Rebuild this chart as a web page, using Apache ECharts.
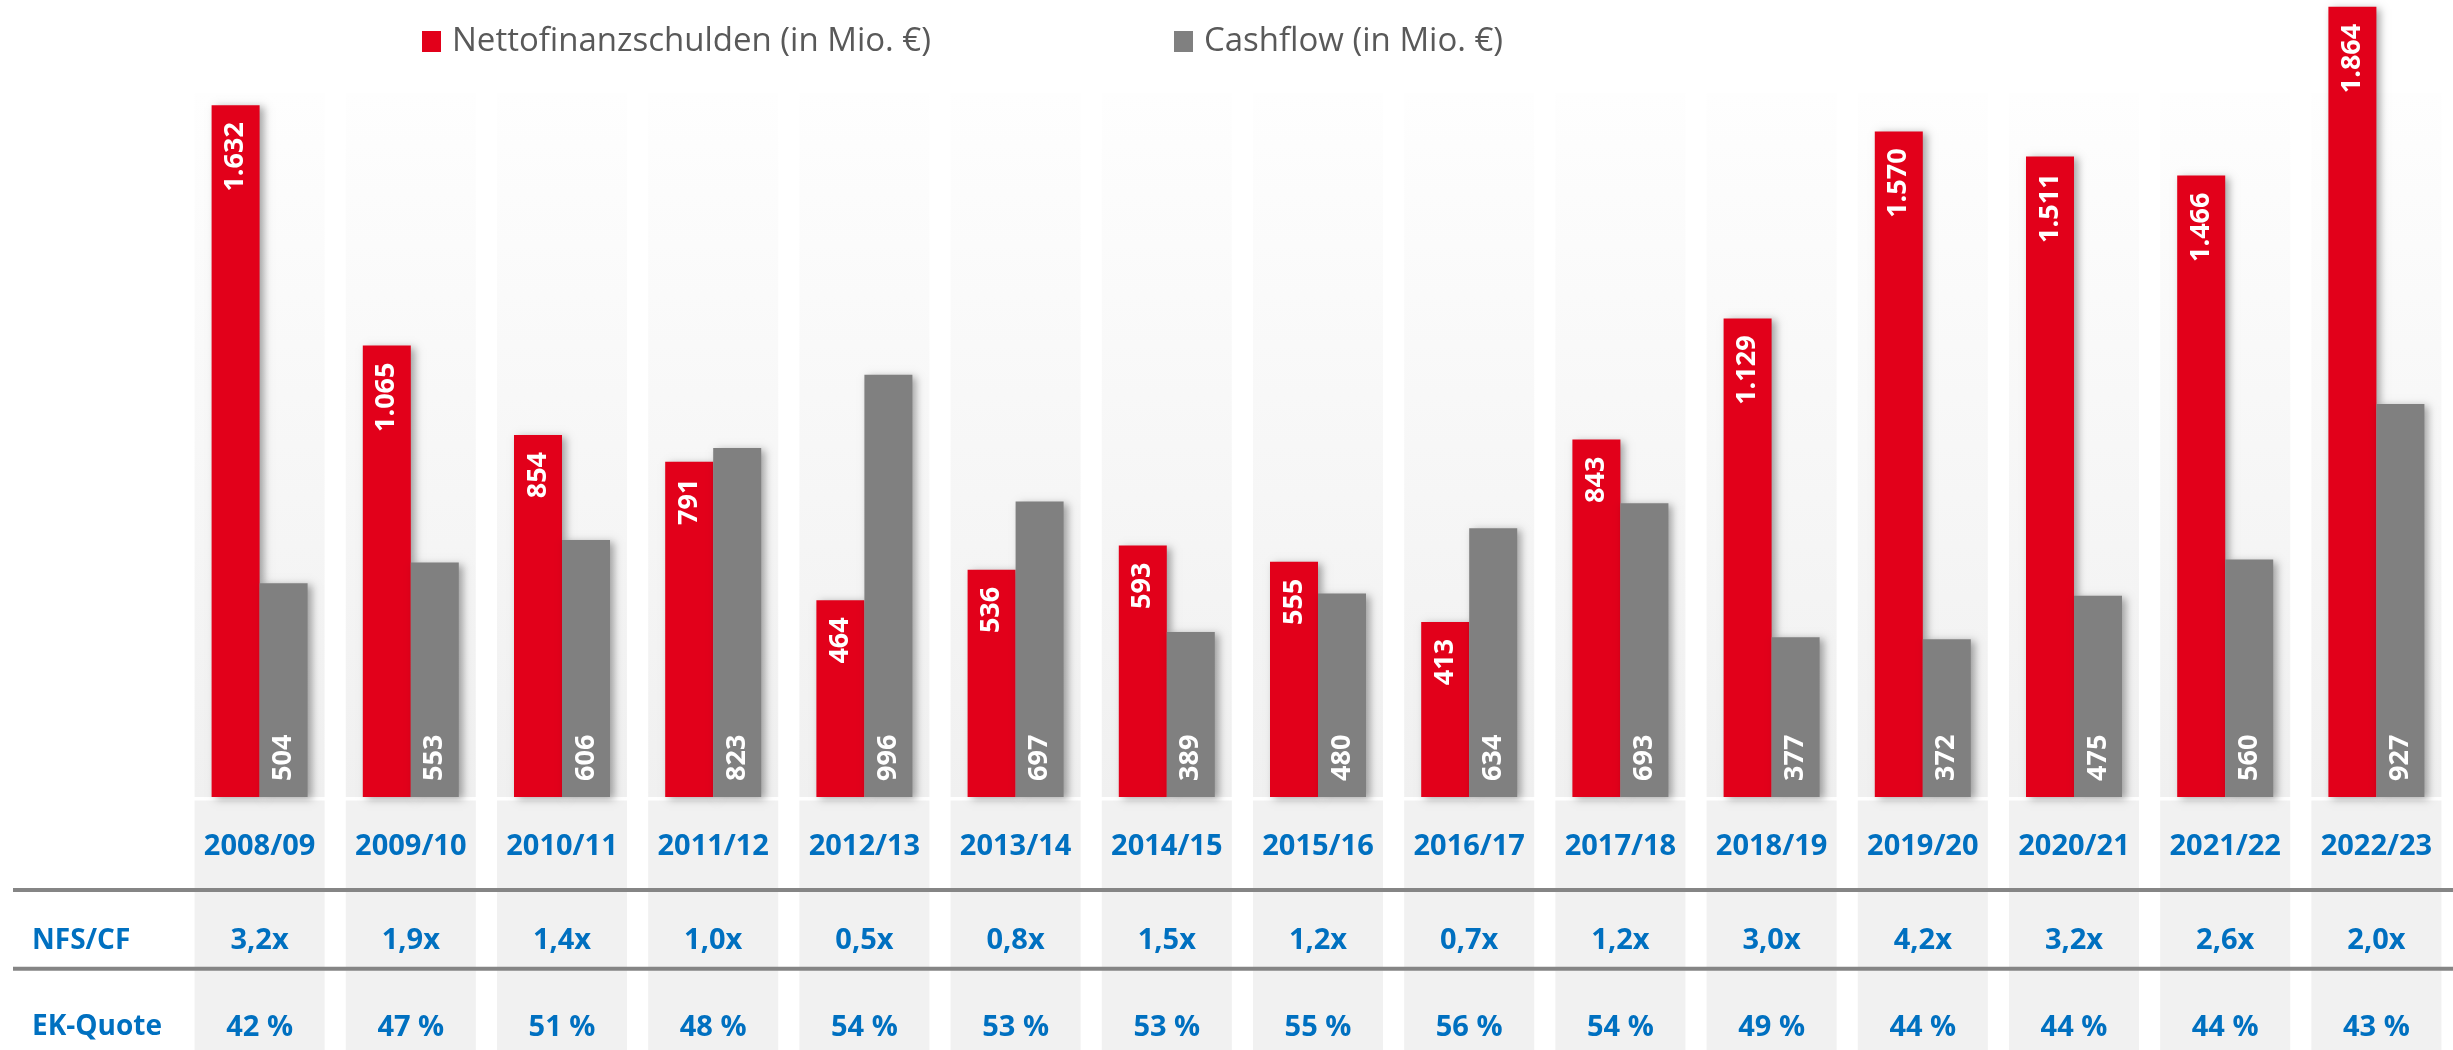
<!DOCTYPE html>
<html>
<head>
<meta charset="utf-8">
<title>Nettofinanzschulden und Cashflow</title>
<script src="https://cdn.jsdelivr.net/npm/echarts@6/dist/echarts.min.js"></script>
<style>
  html, body { margin: 0; padding: 0; background: #ffffff; }
  #chart { width: 2453px; height: 1050px; }
</style>
</head>
<body>
<div id="chart"></div>
<script>
// Geschäftsjahre
const categories = ['2008/09', '2009/10', '2010/11', '2011/12', '2012/13', '2013/14', '2014/15', '2015/16',
  '2016/17', '2017/18', '2018/19', '2019/20', '2020/21', '2021/22', '2022/23'];

// Nettofinanzschulden (in Mio. €)
const nettofinanzschulden = [1632, 1065, 854, 791, 464, 536, 593, 555, 413, 843, 1129, 1570, 1511, 1466, 1864];

// Cashflow (in Mio. €)
const cashflow = [504, 553, 606, 823, 996, 697, 389, 480, 634, 693, 377, 372, 475, 560, 927];

// Kennzahlen-Zeilen unter dem Diagramm
const nfsCf = ['3,2x', '1,9x', '1,4x', '1,0x', '0,5x', '0,8x', '1,5x', '1,2x', '0,7x', '1,2x', '3,0x', '4,2x', '3,2x', '2,6x', '2,0x'];
const ekQuote = ['42 %', '47 %', '51 %', '48 %', '54 %', '53 %', '53 %', '55 %', '56 %', '54 %', '49 %', '44 %', '44 %', '44 %', '43 %'];

const seriesNames = ['Nettofinanzschulden (in Mio. €)', 'Cashflow (in Mio. €)'];
const rowTitles = ['NFS/CF', 'EK-Quote'];

const FONT = '"Open Sans", "Noto Sans", sans-serif';
const BLUE = '#0070c0';
const RED = '#e2001a';
const GREY = '#808080';
const H = 1050;
const STRIPE_TOP = 93;

// German thousands separator
function fmt(v) {
  return String(v).replace(/\B(?=(\d{3})+(?!\d))/g, '.');
}

const chart = echarts.init(document.getElementById('chart'), null, { renderer: 'canvas' });

const barShadow = {
  shadowBlur: 8,
  shadowColor: 'rgba(0,0,0,0.35)',
  shadowOffsetX: 4,
  shadowOffsetY: 2
};

const labelBase = {
  show: true,
  rotate: 90,
  verticalAlign: 'middle',
  color: '#ffffff',
  fontFamily: FONT,
  fontWeight: 'bold',
  fontSize: 27,
  formatter: p => fmt(p.value)
};

function tableAxis(data, margin) {
  return {
    type: 'category',
    gridIndex: 0,
    position: 'bottom',
    data: data,
    axisLine: { show: false },
    axisTick: { show: false },
    splitLine: { show: false },
    axisLabel: {
      margin: margin,
      interval: 0,
      color: BLUE,
      fontFamily: FONT,
      fontWeight: 'bold',
      fontSize: 29,
      lineHeight: 30
    }
  };
}

const legendBase = {
  orient: 'horizontal',
  top: 25,
  padding: 0,
  icon: 'rect',
  itemWidth: 19,
  itemHeight: 21,
  selectedMode: false,
  itemStyle: { shadowBlur: 0, shadowOffsetX: 0, shadowOffsetY: 0, shadowColor: 'transparent' },
  textStyle: {
    color: '#595959',
    fontFamily: FONT,
    fontSize: 33,
    padding: [0, 0, 0, 6]
  }
};

const option = {
  backgroundColor: '#ffffff',
  animation: false,
  legend: [
    Object.assign({}, legendBase, { left: 422, data: [seriesNames[0]] }),
    Object.assign({}, legendBase, { left: 1174, data: [seriesNames[1]] })
  ],
  grid: { left: 184, right: 1, top: 0, bottom: 253, containLabel: false },
  xAxis: [
    tableAxis(categories, 35),
    tableAxis(nfsCf, 129),
    tableAxis(ekQuote, 216)
  ],
  yAxis: {
    type: 'value',
    min: 0,
    max: 1880,
    show: false,
    splitLine: { show: false }
  },
  graphic: [
    {
      type: 'line', silent: true, z: 10,
      shape: { x1: 13, y1: 890, x2: 2453, y2: 890 },
      style: { stroke: '#858585', lineWidth: 4 }
    },
    {
      type: 'line', silent: true, z: 10,
      shape: { x1: 13, y1: 968.7, x2: 2453, y2: 968.7 },
      style: { stroke: '#858585', lineWidth: 4 }
    },
    {
      type: 'text', silent: true, z: 10,
      left: 32, top: 927,
      style: { text: rowTitles[0], fill: BLUE, font: 'bold 28px ' + FONT }
    },
    {
      type: 'text', silent: true, z: 10,
      left: 32, top: 1013,
      style: { text: rowTitles[1], fill: BLUE, font: 'bold 28px ' + FONT }
    }
  ],
  series: [
    {
      // column backgrounds behind each fiscal year
      type: 'custom',
      silent: true,
      clip: false,
      z: 0,
      xAxisIndex: 0,
      yAxisIndex: 0,
      data: categories.map((_, i) => [i]),
      encode: { x: 0 },
      renderItem: function (params, api) {
        const cx = api.coord([api.value(0), 0])[0];
        const base = api.coord([api.value(0), 0])[1];
        const w = api.size([1, 0])[0] * 0.86;
        return {
          type: 'group',
          children: [
            {
              type: 'rect',
              shape: { x: cx - w / 2, y: STRIPE_TOP, width: w, height: base - STRIPE_TOP },
              style: {
                fill: new echarts.graphic.LinearGradient(0, 0, 0, 1, [
                  { offset: 0, color: '#fefefe' },
                  { offset: 1, color: '#f0f0f0' }
                ])
              }
            },
            {
              type: 'rect',
              shape: { x: cx - w / 2, y: base + 3.4, width: w, height: H - base },
              style: { fill: '#f1f1f1' }
            }
          ]
        };
      }
    },
    {
      name: seriesNames[0],
      type: 'bar',
      xAxisIndex: 0,
      yAxisIndex: 0,
      z: 2,
      barWidth: 48,
      barGap: '0%',
      data: nettofinanzschulden,
      itemStyle: Object.assign({ color: RED }, barShadow),
      label: Object.assign({}, labelBase, { position: 'insideTop', align: 'right', distance: 17 })
    },
    {
      name: seriesNames[1],
      type: 'bar',
      xAxisIndex: 0,
      yAxisIndex: 0,
      z: 2,
      barWidth: 48,
      barGap: '0%',
      data: cashflow,
      itemStyle: Object.assign({ color: GREY }, barShadow),
      label: Object.assign({}, labelBase, { position: 'insideBottom', align: 'left', distance: 16 })
    }
  ]
};

chart.setOption(option);
</script>
</body>
</html>
